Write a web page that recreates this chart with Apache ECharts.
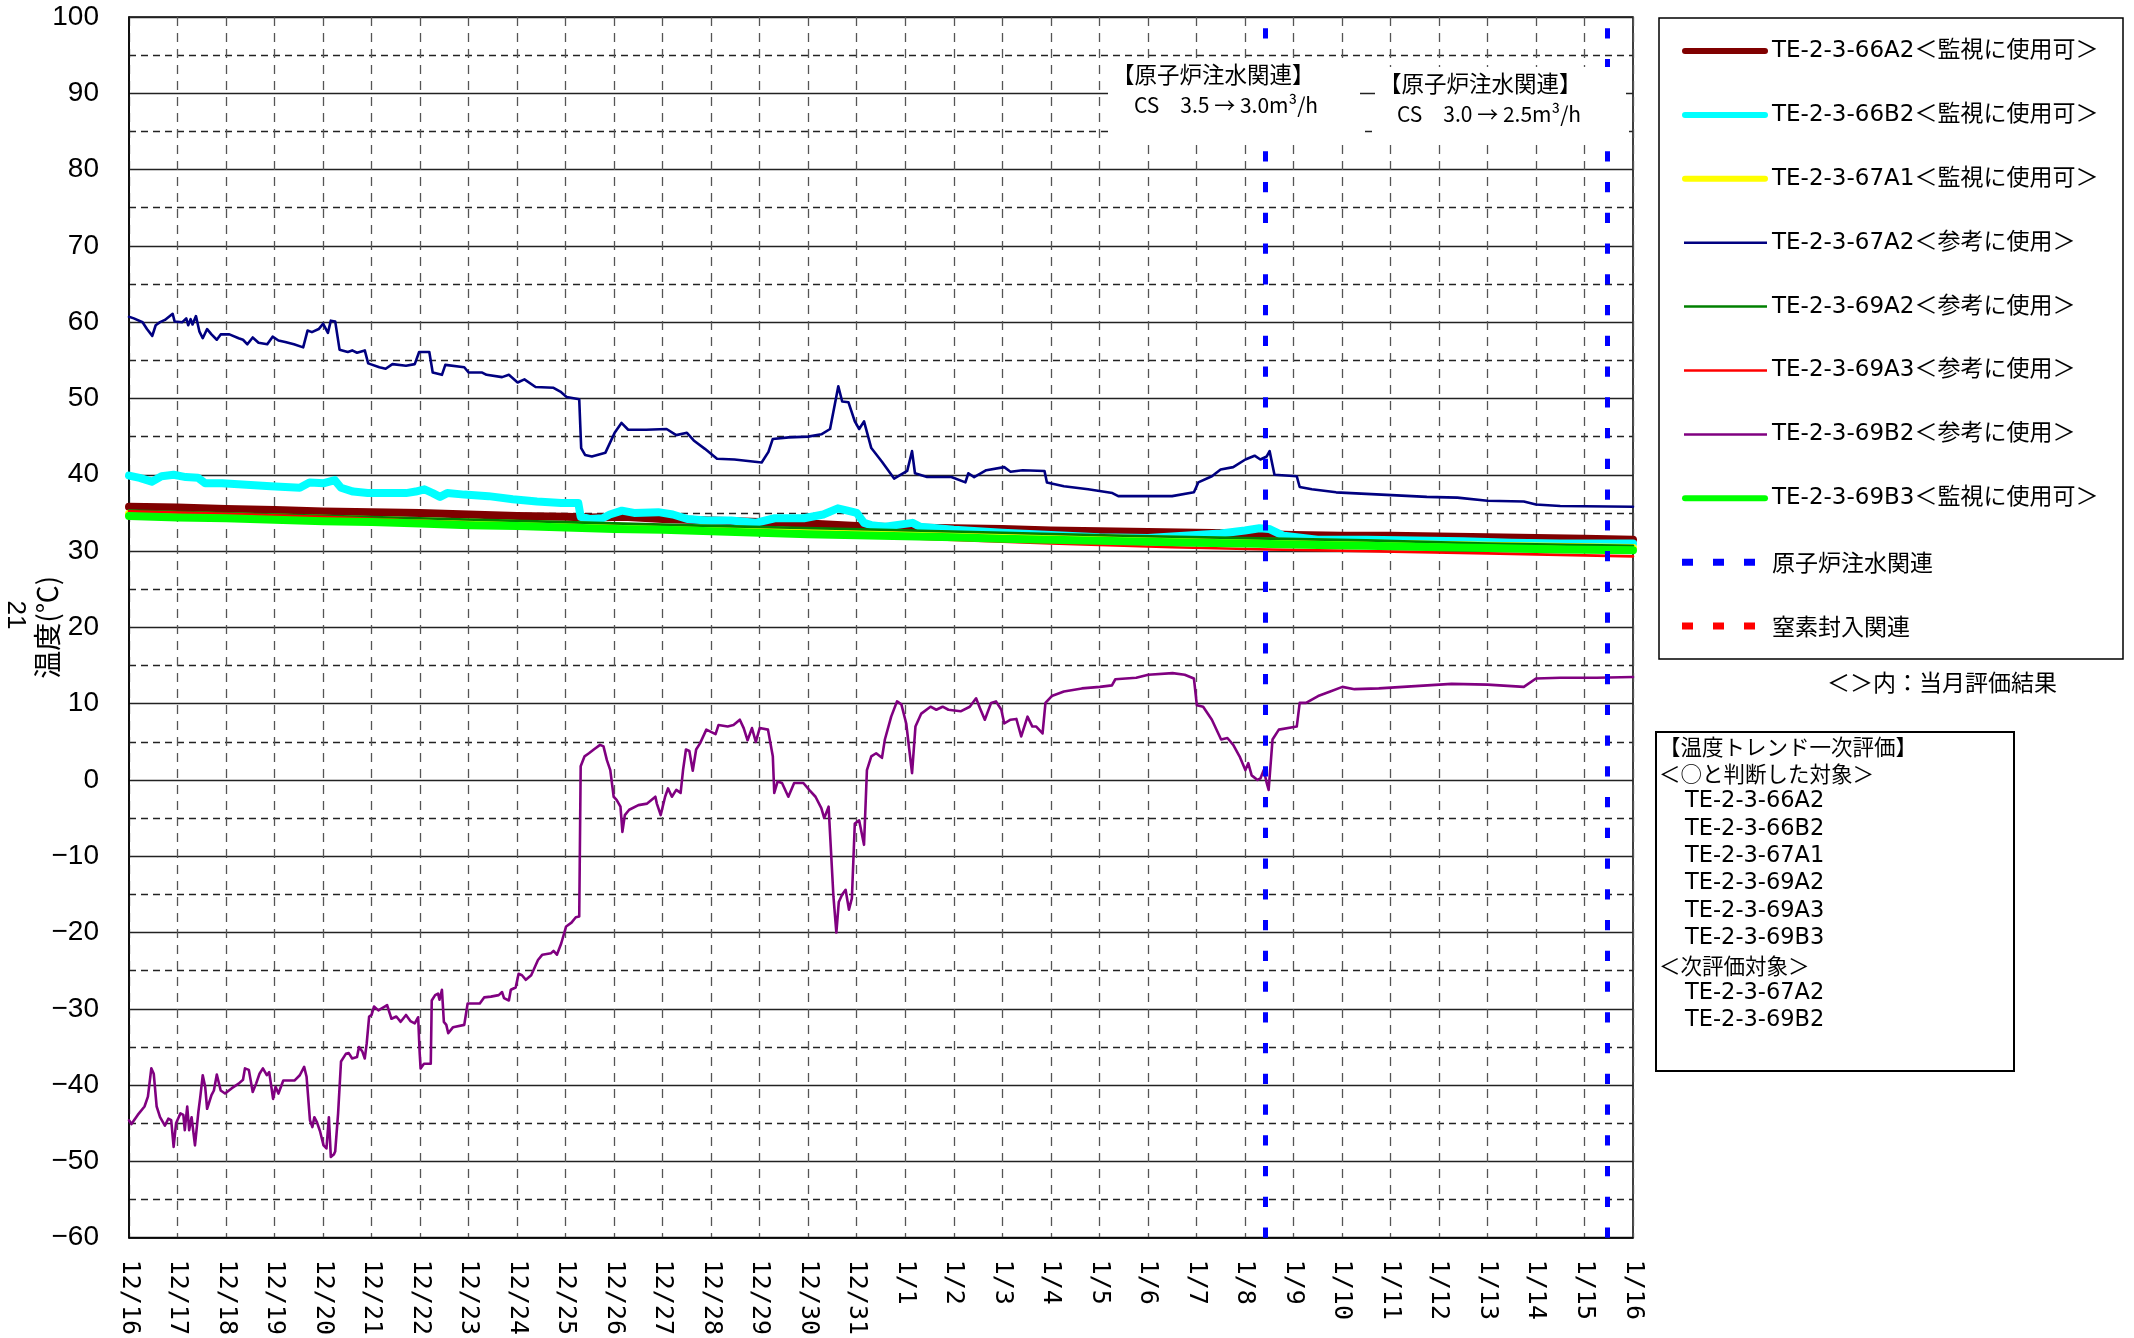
<!DOCTYPE html>
<html><head><meta charset="utf-8">
<script src="https://cdn.jsdelivr.net/npm/echarts@6/dist/echarts.min.js"></script>
<style>html,body{margin:0;padding:0;background:#fff}#c{width:2134px;height:1338px}</style>
</head><body><div id="c"></div>
<script>
// x positions are days elapsed since 12/16 00:00
const xLabels = ['12/16','12/17','12/18','12/19','12/20','12/21','12/22','12/23','12/24','12/25','12/26','12/27','12/28','12/29','12/30','12/31',
  '1/1','1/2','1/3','1/4','1/5','1/6','1/7','1/8','1/9','1/10','1/11','1/12','1/13','1/14','1/15','1/16'];

const seriesNames = ['TE-2-3-66A2','TE-2-3-66B2','TE-2-3-67A1','TE-2-3-67A2','TE-2-3-69A2','TE-2-3-69A3','TE-2-3-69B2','TE-2-3-69B3'];
const seriesStatus = ['＜監視に使用可＞','＜監視に使用可＞','＜監視に使用可＞','＜参考に使用＞','＜参考に使用＞','＜参考に使用＞','＜参考に使用＞','＜監視に使用可＞'];
const seriesColors = ['#800000','#00FFFF','#FFFF00','#000080','#008000','#FF0000','#800080','#00FF00'];

const te66A2 = [[0,35.8],[1,35.7],[2,35.5],[3,35.4],[4,35.2],[5,35.1],[6,35.0],[7,34.8],[8,34.6],[9,34.5],[9.5,34.4],[10.2,34.5],[11,34.2],[12,34.0],[13,33.8],[14,33.6],[15,33.3],[16,33.1],[17,33.0],[18,32.9],[19,32.7],[20,32.6],[21,32.5],[22,32.4],[23,32.3],[24,32.1],[25,32.0],[26,32.0],[27,31.9],[28,31.8],[29,31.7],[30,31.6],[31,31.5]];

const te66B2 = [[0,39.9],[0.22,39.6],[0.47,39.1],[0.67,39.8],[0.92,40.0],[1.17,39.7],[1.42,39.6],[1.57,38.9],[1.92,38.9],[2.42,38.7],[2.92,38.5],[3.52,38.3],[3.72,39.0],[4.02,38.9],[4.24,39.3],[4.37,38.3],[4.62,37.8],[4.92,37.6],[5.31,37.6],[5.71,37.6],[5.91,37.8],[6.09,38.1],[6.26,37.6],[6.41,37.1],[6.56,37.6],[6.91,37.4],[7.41,37.2],[7.91,36.8],[8.41,36.5],[8.91,36.3],[9.26,36.3],[9.31,34.5],[9.51,34.2],[9.76,34.3],[9.91,34.8],[10.16,35.3],[10.41,35.0],[10.91,35.1],[11.21,34.8],[11.51,34.2],[11.91,34.0],[12.41,34.0],[12.91,33.7],[13.31,34.3],[13.91,34.3],[14.31,34.8],[14.61,35.6],[14.81,35.3],[15.0,35.0],[15.15,33.7],[15.3,33.4],[15.58,33.2],[16.15,33.7],[16.3,33.2],[17,32.8],[18,32.4],[19,32.1],[20,31.8],[21,31.7],[22,32.1],[22.5,32.3],[23.0,32.7],[23.3,33.0],[23.5,32.9],[23.8,32.0],[24.5,31.5],[25.5,31.5],[26.5,31.4],[27.5,31.3],[28.5,31.1],[29.5,31.0],[31,31.0]];

const te67A1 = [[0,34.9],[3,34.4],[6,33.9],[9,33.4],[12,32.9],[15.5,32.3],[18,31.9],[20.5,31.6],[23,31.3],[25.5,31.0],[28,30.7],[31,30.4]];

const te67A2 = [[0,60.7],[0.1,60.5],[0.28,60.0],[0.37,59.1],[0.48,58.2],[0.55,59.6],[0.64,60.0],[0.74,60.3],[0.9,61.1],[0.94,60.1],[1.1,60.0],[1.18,60.5],[1.22,59.6],[1.27,60.4],[1.31,59.7],[1.38,60.8],[1.45,58.8],[1.52,57.9],[1.61,59.1],[1.7,58.4],[1.81,57.7],[1.89,58.4],[2.07,58.4],[2.26,57.9],[2.35,57.7],[2.44,57.1],[2.55,58.0],[2.67,57.3],[2.85,57.1],[2.96,58.1],[3.08,57.6],[3.22,57.4],[3.4,57.1],[3.59,56.7],[3.68,58.9],[3.77,58.7],[3.91,59.1],[4.0,59.8],[4.1,58.6],[4.16,60.2],[4.25,60.1],[4.34,56.4],[4.51,56.1],[4.6,56.3],[4.7,56.0],[4.86,56.3],[4.93,54.6],[5.16,54.1],[5.29,53.9],[5.43,54.5],[5.71,54.3],[5.89,54.5],[5.98,56.1],[6.19,56.1],[6.26,53.4],[6.45,53.1],[6.52,54.4],[6.91,54.1],[7.0,53.4],[7.28,53.4],[7.37,53.1],[7.69,52.8],[7.83,53.1],[8.01,52.1],[8.15,52.5],[8.38,51.5],[8.75,51.4],[8.89,50.9],[9.02,50.2],[9.28,49.9],[9.32,43.5],[9.4,42.6],[9.54,42.4],[9.82,42.9],[10.01,45.5],[10.15,46.8],[10.29,45.9],[10.66,45.9],[11.08,46.0],[11.28,45.2],[11.5,45.5],[11.64,44.5],[11.87,43.4],[12.12,42.1],[12.48,42.0],[13.04,41.6],[13.18,43.0],[13.27,44.7],[13.6,44.9],[14.0,45.0],[14.27,45.3],[14.45,46.0],[14.62,51.6],[14.7,49.6],[14.83,49.5],[14.96,47.0],[15.05,46.0],[15.15,47.0],[15.3,43.5],[15.52,41.7],[15.77,39.5],[16.04,40.5],[16.14,43.1],[16.2,40.2],[16.45,39.7],[16.95,39.7],[17.24,39.0],[17.3,40.2],[17.42,39.7],[17.67,40.6],[18.04,41.0],[18.17,40.4],[18.42,40.6],[18.87,40.5],[18.92,39.0],[19.27,38.5],[19.77,38.1],[20.27,37.6],[20.39,37.2],[21.0,37.2],[21.5,37.2],[21.95,37.7],[22.04,39.0],[22.32,39.8],[22.5,40.7],[22.76,41.0],[23.01,42.0],[23.2,42.5],[23.32,42.0],[23.45,42.4],[23.51,43.1],[23.61,40.0],[24.07,39.8],[24.13,38.4],[24.38,38.1],[24.88,37.7],[25.5,37.5],[26.13,37.3],[26.75,37.1],[27.38,37.0],[28.0,36.6],[28.75,36.5],[29.0,36.1],[29.5,35.9],[31,35.8]];

const te69A2 = [[0,35.3],[3,34.8],[6,34.3],[9,33.8],[12,33.3],[15.5,32.8],[18,32.4],[20.5,32.0],[23,31.7],[25.5,31.4],[28,31.0],[31,30.7]];

const te69A3 = [[0,35.2],[2,34.9],[4.4,34.4],[8,33.4],[12,32.5],[16,31.7],[19,31.0],[21.5,30.5],[23.5,30.2],[25.5,30.0],[28,29.7],[31,29.3]];

const te69B2 = [[0,-44.6],[0.05,-45.1],[0.18,-43.9],[0.32,-42.8],[0.39,-41.5],[0.46,-37.8],[0.51,-38.5],[0.57,-42.8],[0.64,-44.2],[0.74,-45.3],[0.81,-44.4],[0.87,-44.6],[0.92,-48.1],[0.97,-45.0],[1.06,-43.7],[1.12,-43.9],[1.15,-45.9],[1.2,-42.8],[1.24,-45.9],[1.29,-44.2],[1.36,-47.9],[1.43,-43.5],[1.47,-41.5],[1.52,-38.7],[1.57,-40.2],[1.61,-43.1],[1.7,-41.3],[1.75,-40.7],[1.81,-38.6],[1.89,-40.7],[1.98,-41.1],[2.12,-40.4],[2.26,-39.8],[2.35,-39.3],[2.39,-37.8],[2.47,-38.0],[2.55,-40.9],[2.62,-39.8],[2.69,-38.5],[2.76,-37.8],[2.84,-38.7],[2.89,-38.3],[2.97,-41.8],[3.02,-40.2],[3.08,-41.1],[3.18,-39.4],[3.41,-39.4],[3.52,-38.7],[3.61,-37.6],[3.66,-38.9],[3.73,-44.6],[3.78,-45.5],[3.82,-44.2],[3.87,-44.8],[3.94,-46.1],[4.01,-47.9],[4.07,-48.3],[4.12,-44.2],[4.16,-49.4],[4.22,-49.1],[4.25,-48.7],[4.31,-43.7],[4.37,-36.9],[4.47,-35.9],[4.53,-35.8],[4.6,-36.5],[4.7,-36.3],[4.74,-35.0],[4.81,-35.6],[4.86,-36.5],[4.9,-34.5],[4.95,-31.0],[5.0,-30.8],[5.05,-29.7],[5.14,-30.2],[5.27,-29.7],[5.32,-29.5],[5.41,-31.3],[5.51,-31.0],[5.6,-31.7],[5.71,-30.8],[5.8,-31.6],[5.89,-31.9],[5.96,-31.1],[5.99,-35.6],[6.01,-37.8],[6.08,-37.2],[6.22,-37.2],[6.24,-28.9],[6.31,-28.2],[6.37,-28.0],[6.4,-28.8],[6.45,-27.5],[6.49,-31.7],[6.54,-32.1],[6.58,-33.2],[6.68,-32.4],[6.91,-32.1],[6.98,-29.3],[7.09,-29.3],[7.23,-29.3],[7.32,-28.5],[7.46,-28.4],[7.62,-28.2],[7.69,-27.8],[7.73,-28.6],[7.83,-28.9],[7.87,-27.5],[7.97,-27.2],[8.03,-25.4],[8.1,-25.6],[8.18,-26.2],[8.29,-25.6],[8.43,-23.6],[8.52,-22.9],[8.7,-22.7],[8.75,-22.4],[8.82,-22.9],[8.91,-21.4],[9.01,-19.2],[9.12,-18.7],[9.21,-18.0],[9.28,-17.9],[9.31,1.8],[9.39,3.1],[9.48,3.5],[9.58,4.0],[9.71,4.6],[9.78,4.4],[9.85,2.6],[9.92,1.3],[9.99,-2.2],[10.05,-2.6],[10.13,-3.5],[10.17,-6.8],[10.22,-4.6],[10.31,-3.9],[10.5,-3.3],[10.68,-3.1],[10.85,-2.2],[10.88,-3.1],[10.96,-4.6],[11.05,-2.2],[11.11,-1.1],[11.19,-2.2],[11.28,-1.3],[11.37,-1.7],[11.42,1.3],[11.48,4.0],[11.55,3.8],[11.62,1.2],[11.69,4.0],[11.77,4.8],[11.9,6.6],[12.09,6.0],[12.15,7.2],[12.34,7.0],[12.46,7.2],[12.59,7.9],[12.67,6.8],[12.75,5.2],[12.84,6.8],[12.92,5.0],[13.0,6.8],[13.17,6.6],[13.27,3.1],[13.3,-1.7],[13.37,-0.2],[13.46,-0.4],[13.59,-2.2],[13.71,-0.4],[13.9,-0.4],[14.02,-1.3],[14.15,-2.2],[14.27,-3.7],[14.33,-5.0],[14.42,-3.5],[14.52,-15.3],[14.58,-20.0],[14.63,-16.0],[14.7,-15.0],[14.77,-14.4],[14.84,-17.0],[14.9,-15.5],[14.96,-5.7],[15.05,-5.3],[15.15,-8.5],[15.21,1.3],[15.3,3.1],[15.4,3.5],[15.52,2.9],[15.58,5.3],[15.71,8.3],[15.83,10.3],[15.92,9.9],[16.02,7.4],[16.14,0.9],[16.21,7.0],[16.33,8.7],[16.52,9.6],[16.64,9.2],[16.77,9.6],[16.89,9.2],[17.14,9.0],[17.33,9.6],[17.46,10.7],[17.54,9.4],[17.64,7.9],[17.77,10.1],[17.87,10.3],[17.98,9.2],[18.04,7.4],[18.17,7.9],[18.29,8.0],[18.39,5.7],[18.52,8.3],[18.62,7.0],[18.7,7.0],[18.83,6.1],[18.89,10.1],[19.02,11.0],[19.27,11.6],[19.64,12.0],[20.01,12.2],[20.26,12.4],[20.33,13.2],[20.76,13.4],[21.01,13.8],[21.51,14.0],[21.76,13.8],[21.95,13.3],[22.01,9.8],[22.14,9.6],[22.32,7.9],[22.51,5.3],[22.64,5.5],[22.76,4.6],[22.89,3.1],[23.01,1.3],[23.07,2.2],[23.14,0.6],[23.26,0.0],[23.32,0.2],[23.39,1.3],[23.45,-0.4],[23.49,-1.3],[23.57,5.3],[23.7,6.6],[24.07,7.0],[24.13,10.1],[24.26,10.1],[24.51,11.0],[24.76,11.6],[25.01,12.2],[25.26,11.9],[25.76,12.0],[26.26,12.2],[26.76,12.4],[27.26,12.6],[28.0,12.5],[28.5,12.3],[28.75,12.2],[29.0,13.3],[29.5,13.4],[30.25,13.4],[31.0,13.5]];

const te69B3 = [[0,34.6],[1,34.4],[2,34.3],[3,34.1],[4,33.9],[5,33.8],[6,33.6],[7,33.4],[8,33.3],[9,33.1],[10,32.9],[11,32.8],[12,32.6],[13,32.4],[14,32.2],[15.5,32.0],[17,31.8],[18,31.6],[19,31.5],[20.5,31.3],[22,31.1],[23,31.0],[24.5,30.8],[25.5,30.7],[27,30.5],[28,30.4],[29.5,30.2],[31,30.1]];

const injectionEvents = [23.43, 30.46];   // 原子炉注水関連 (CS flow changes)
const injectionNotes = [['【原子炉注水関連】','CS　3.5 → 3.0m³/h'],['【原子炉注水関連】','CS　3.0 → 2.5m³/h']];
const evalLines = ['【温度トレンド一次評価】','＜○と判断した対象＞','TE-2-3-66A2','TE-2-3-66B2','TE-2-3-67A1','TE-2-3-69A2','TE-2-3-69A3','TE-2-3-69B3','＜次評価対象＞','TE-2-3-67A2','TE-2-3-69B2'];

const allData = [te66A2, te66B2, te67A1, te67A2, te69A2, te69A3, te69B2, te69B3];
const thick = [true,true,true,false,false,false,false,true];

const CJK = '"Noto Sans CJK JP"';
const chart = echarts.init(document.getElementById('c'), null, {renderer:'canvas'});

const series = allData.map((d,i) => ({
  name: seriesNames[i], type:'line', data:d, showSymbol:false, symbol:'none', animation:false,
  lineStyle:{color:seriesColors[i], width: thick[i]?8:2.6, cap:'round', join:'round'},
  silent:true
}));
series.push({
  name:'原子炉注水関連', type:'line', data:[], silent:true, animation:false,
  markLine:{symbol:['none','none'], silent:true, animation:false, label:{show:false},
    lineStyle:{color:'#0000FF', width:5, type:[10.25,20.5]},
    data: injectionEvents.map(d => ({xAxis:d}))}
});

const graphics = [];
// y-axis stray label
graphics.push({type:'text', x:15, y:615, rotation:-Math.PI/2, z:50,
  style:{text:'21', font:'26px "Liberation Sans"', fill:'#000', align:'center', verticalAlign:'middle'}});
// annotation boxes
const noteBoxes = [[1108,58,252,80],[1375,67,251,74]];
const noteText = [[1112,74,1134,105],[1379,83,1397,114]];
injectionNotes.forEach((n,i) => {
  const b = noteBoxes[i], t = noteText[i];
  graphics.push({type:'rect', z:100, shape:{x:b[0],y:b[1],width:b[2],height:b[3]}, style:{fill:'#fff'}});
  graphics.push({type:'text', z:101, x:t[0], y:t[1], style:{text:n[0], font:'22.5px '+CJK, fill:'#000', verticalAlign:'middle'}});
  graphics.push({type:'text', z:101, x:t[2], y:t[3], style:{text:n[1], font:'21px '+CJK, fill:'#000', verticalAlign:'middle'}});
});
// legend box
graphics.push({type:'rect', z:100, shape:{x:1659,y:18,width:464,height:641}, style:{fill:'#fff', stroke:'#000', lineWidth:1.5}});
const legendNames = seriesNames.map((n,i)=>n+seriesStatus[i]);
legendNames.forEach((n,i) => {
  const y = 51 + i*63.9;
  graphics.push({type:'line', z:101, shape:{x1: thick[i]?1685:1684, y1:y, x2: thick[i]?1765:1767, y2:y},
    style:{stroke:seriesColors[i], lineWidth: thick[i]?6:2.5, lineCap: thick[i]?'round':'butt'}});
  graphics.push({type:'text', z:101, x:1772, y:y, style:{text:n, font:'23px "DejaVu Sans",'+CJK, fill:'#000', verticalAlign:'middle'}});
});
const dashItems = [['原子炉注水関連','#0000FF'],['窒素封入関連','#FF0000']];
dashItems.forEach((it,j) => {
  const y = 51 + (8+j)*63.9;
  graphics.push({type:'line', z:101, shape:{x1:1682,y1:y,x2:1755,y2:y}, style:{stroke:it[1], lineWidth:7, lineDash:[11,20]}});
  graphics.push({type:'text', z:101, x:1772, y:y, style:{text:it[0], font:'23px '+CJK, fill:'#000', verticalAlign:'middle'}});
});
graphics.push({type:'text', z:101, x:1827, y:682, style:{text:'＜＞内：当月評価結果', font:'23px '+CJK, fill:'#000', verticalAlign:'middle'}});
// evaluation box
graphics.push({type:'rect', z:100, shape:{x:1656,y:732,width:358,height:339}, style:{fill:'#fff', stroke:'#000', lineWidth:2}});
evalLines.forEach((t,i) => {
  const isTE = t.startsWith('TE');
  graphics.push({type:'text', z:101, x: isTE?1685:1659, y: 747 + i*27.3,
    style:{text:t, font: isTE ? '22.5px "DejaVu Sans",'+CJK : '21.5px '+CJK, fill:'#000', verticalAlign:'middle'}});
});

chart.setOption({
  animation:false,
  backgroundColor:'#fff',
  grid:{left:129, right:501, top:17, bottom:100, show:true, borderColor:'#000', borderWidth:1.5, backgroundColor:'transparent'},
  xAxis:{type:'value', min:0, max:31, interval:1,
    axisLine:{show:true, onZero:false, lineStyle:{color:'#000', width:1.5}},
    axisTick:{show:false},
    splitLine:{show:true, lineStyle:{color:'#555', width:1.3, type:[9,7]}},
    axisLabel:{rotate:-90, margin:22, fontFamily:'DejaVu Sans Mono', fontSize:25, color:'#000',
      formatter: v => xLabels[Math.round(v)]}},
  yAxis:{type:'value', min:-60, max:100, interval:10,
    axisLine:{show:true, lineStyle:{color:'#000', width:1.5}},
    axisTick:{show:false},
    axisLabel:{fontFamily:'Liberation Sans', fontSize:28, color:'#000', margin:30,
      formatter: v => String(v).replace('-', '−')},
    splitLine:{show:true, lineStyle:{color:'#222', width:1.3}},
    minorTick:{show:false, splitNumber:2},
    minorSplitLine:{show:true, lineStyle:{color:'#222', width:1.3, type:[7,5]}},
    name:'温度(℃)', nameLocation:'middle', nameRotate:90, nameGap:68, nameMoveOverlap:false,
    nameTextStyle:{fontFamily:'Noto Sans CJK JP', fontSize:28, color:'#000'}},
  series: series,
  graphic: graphics
});
</script>
</body></html>
